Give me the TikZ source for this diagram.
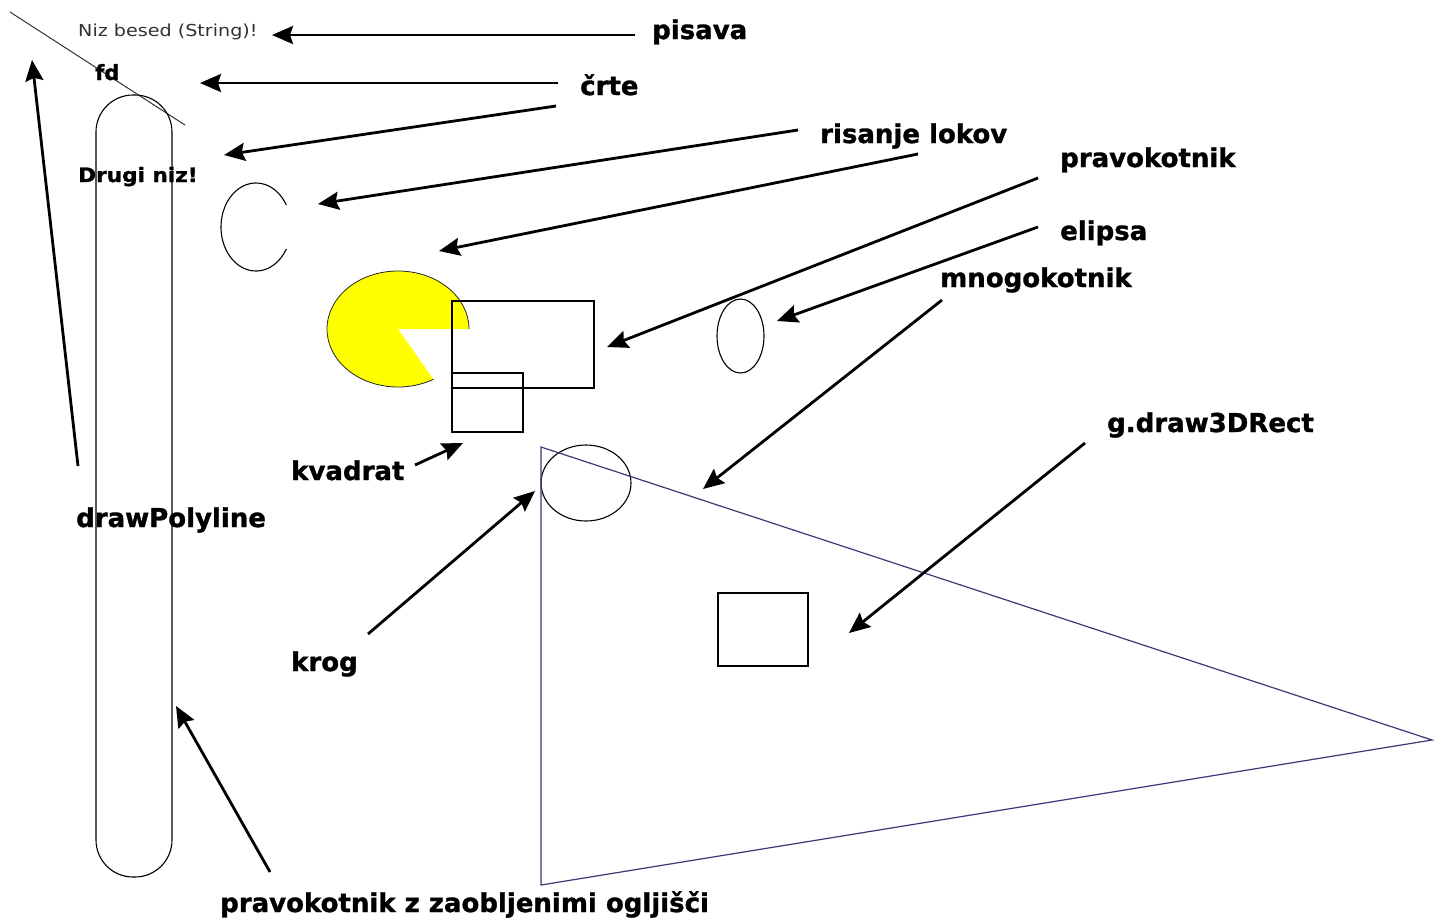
\documentclass[tikz,border=0pt]{standalone}
\usepackage{fontspec}
\setmainfont{DejaVu Sans}
\newfontfamily\heavyfont{DejaVu Sans Bold}[FakeBold=1.2]
\usepackage{graphicx}
\usetikzlibrary{arrows.meta}
\definecolor{navyline}{RGB}{58,58,118}
\definecolor{pacyellow}{RGB}{255,255,0}
\definecolor{txtgray}{RGB}{50,50,50}
\begin{document}
\begin{tikzpicture}[x=1pt,y=-1pt,
  lbl/.style={anchor=base west,inner sep=0pt,font=\fontsize{26}{30}\heavyfont},
  small/.style={anchor=base west,inner sep=0pt},
  arr/.style={line width=2.8pt,-{Stealth[length=21pt,width=18pt,inset=3pt]}},
  fig/.style={draw=black,line width=1.1pt},
]
\useasboundingbox[fill=white] (0,0) rectangle (1442,922);

% ---- drawn figures ----
\draw[line width=1pt,black!80] (10,12) -- (185,125);
\node[small,text=txtgray] (niz) at (78,36) {\fontsize{16.5}{18}\selectfont\scalebox{1.16}[1]{Niz besed (String)!}};
\node[small] (fd) at (95,80) {\fontsize{21}{22}\heavyfont fd};
\node[small] (drugi) at (78,182) {\fontsize{19.8}{22}\heavyfont\scalebox{1.09}[1]{Drugi niz!}};

\draw[fig,rounded corners=37pt] (96,95) rectangle (172,877);

% arc
\draw[fig] (286.3,205) arc[start angle=30,end angle=330,x radius=35pt,y radius=44pt];

% pacman
\fill[pacyellow] (398,329) -- (469,329) arc[start angle=0,end angle=300,x radius=71pt,y radius=58pt] -- cycle;
\draw[line width=0.8pt,black!85] (469,329) arc[start angle=0,end angle=300,x radius=71pt,y radius=58pt];

\draw[fig] (452,301) rectangle (594,388);
\draw[fig] (452,373) rectangle (523,432);
\draw[fig] (740.5,336) ellipse[x radius=23.5pt,y radius=37pt];
\draw[fig] (586,483) ellipse[x radius=45pt,y radius=38pt];
\draw[line width=1.2pt,navyline] (541,447) -- (1432,740) -- (541,885) -- cycle;
\draw[fig] (718,593) rectangle (808,666);

% ---- labels ----
\node[lbl] (pisava) at (652,39) {pisava};
\node[lbl] (crte) at (580,95) {črte};
\node[lbl] (lokov) at (820,143) {risanje lokov};
\node[lbl] (pravo) at (1060,167) {pravokotnik};
\node[lbl] (elipsa) at (1060,240) {elipsa};
\node[lbl] (mnogo) at (940,287) {mnogokotnik};
\node[lbl] (rect3d) at (1107,432) {g.draw3DRect};
\node[lbl] (kvadrat) at (291,480) {kvadrat};
\node[lbl] (poly) at (76,527) {drawPolyline};
\node[lbl] (krog) at (291,671) {krog};
\node[lbl] (zaob) at (220,912) {pravokotnik z zaobljenimi ogljišči};

% ---- arrow ends ----
\coordinate (s1) at (635,35);   \coordinate (t1) at (272,35);
\coordinate (s2) at (558,83);   \coordinate (t2) at (200,83);
\coordinate (s3) at (556,106);  \coordinate (t3) at (224,155);
\coordinate (s4) at (798,130);  \coordinate (t4) at (318,204);
\coordinate (s5) at (918,154);  \coordinate (t5) at (439,251);
\coordinate (s6) at (1038,178); \coordinate (t6) at (607,347);
\coordinate (s7) at (1038,227); \coordinate (t7) at (777,321);
\coordinate (s8) at (942,300);  \coordinate (t8) at (703,489);
\coordinate (s9) at (1085,443); \coordinate (t9) at (849,633);
\coordinate (s10) at (415,465); \coordinate (t10) at (463,443);
\coordinate (s11) at (368,634); \coordinate (t11) at (535,491);
\coordinate (s12) at (78,466);  \coordinate (t12) at (32,60);
\coordinate (s13) at (270,872); \coordinate (t13) at (176,706);

\foreach \i in {1,...,13} \draw[arr] (s\i) -- (t\i);
\end{tikzpicture}
\end{document}
